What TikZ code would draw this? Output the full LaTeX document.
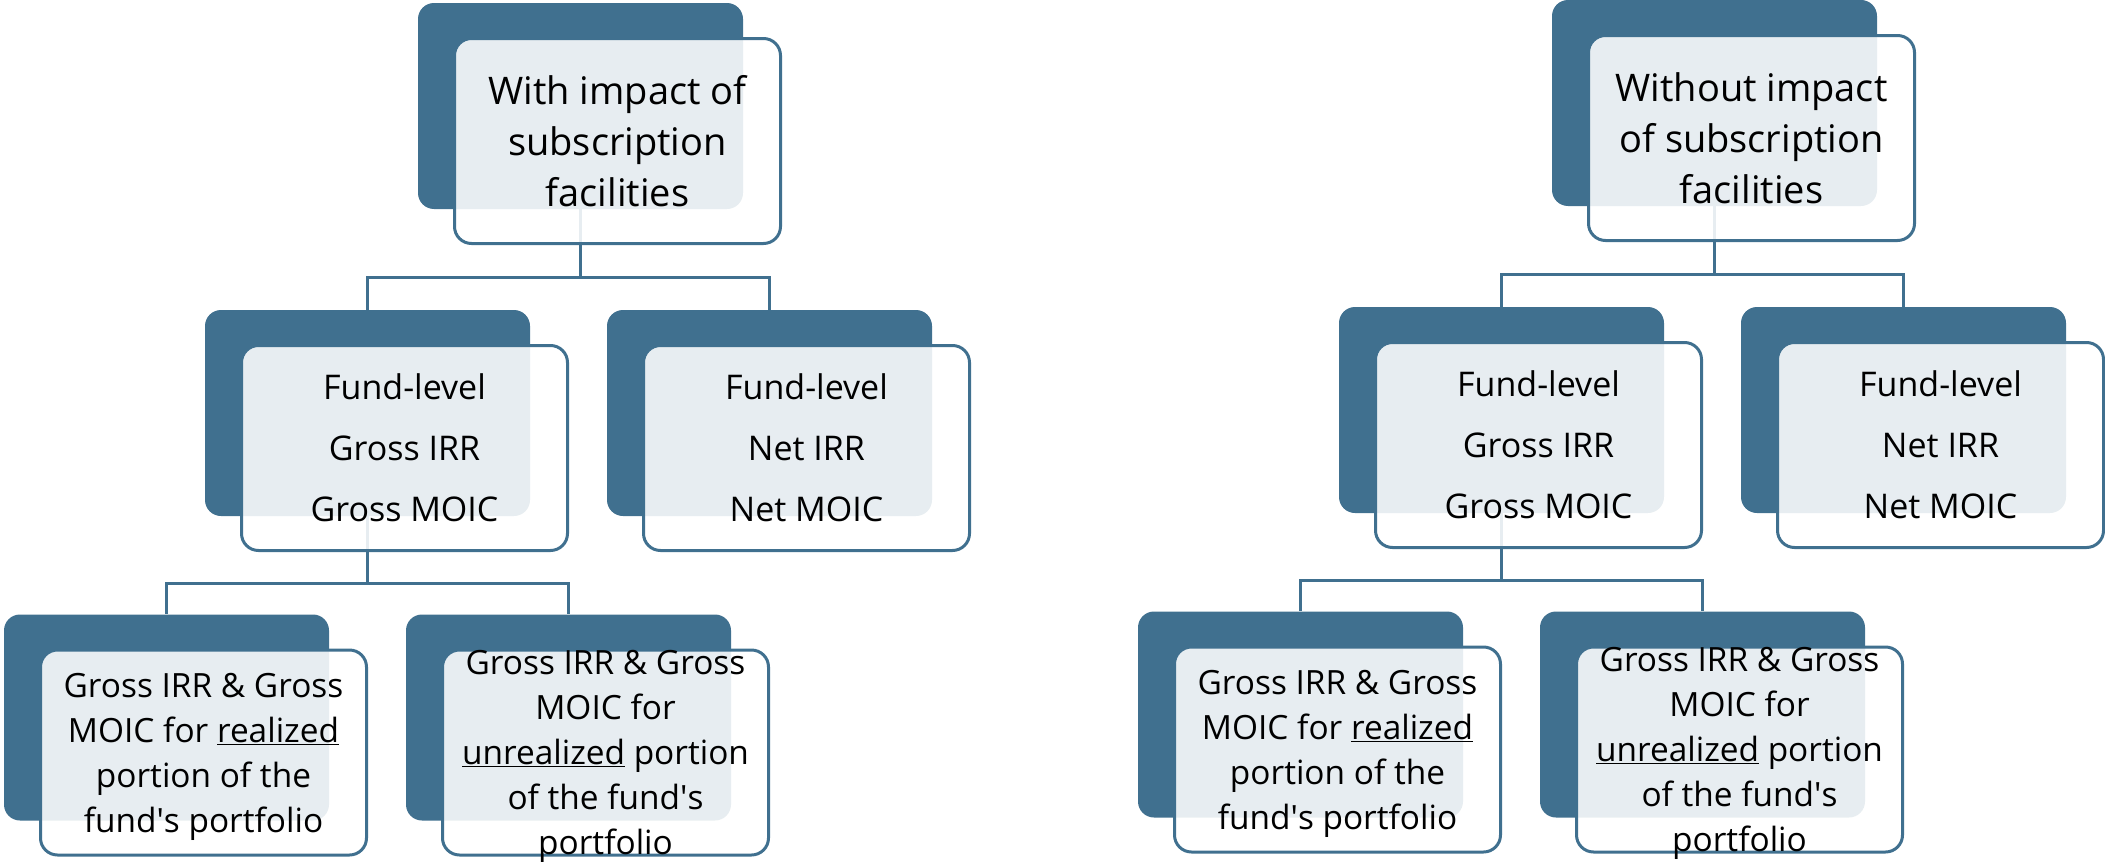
\documentclass[tikz,border=0pt]{standalone}
\usepackage{fontspec}
\setmainfont{Open Sans}
\newfontfamily\apsfont{Open Sans}
\usetikzlibrary{calc}
\definecolor{dk}{RGB}{64,112,143}
\newcommand\aps{{\apsfont\char39\relax}}
\begin{document}
\begin{tikzpicture}[x=1pt,y=-1pt,
  darkbox/.style={fill=dk, draw=none, rounded corners=16pt, minimum width=325pt, minimum height=206pt, inner sep=0pt},
  frontbox/.style={draw=dk, line width=3pt, fill=white, fill opacity=0.88, rounded corners=17pt, minimum width=326pt, minimum height=205pt, inner sep=0pt},
  conn/.style={draw=dk, line width=3pt},
  toptext/.style={align=center, inner sep=0pt, font=\fontsize{38}{51}\selectfont},
  midtext/.style={align=center, inner sep=0pt, font=\fontsize{34}{61}\selectfont},
  bottext/.style={align=center, inner sep=0pt, yshift=-4pt, font=\fontsize{33.4}{45}\selectfont}]
\useasboundingbox (0,0) rectangle (2105,862);
% dark back boxes
\node[darkbox] (t1d) at (580.5,106) {};
\node[darkbox] (m1d) at (367.5,413) {};
\node[darkbox] (m2d) at (769.5,413) {};
\node[darkbox] (b1d) at (166.5,717.5) {};
\node[darkbox] (b2d) at (568.5,717.5) {};
\node[darkbox] (t2d) at (1714.5,103) {};
\node[darkbox] (m3d) at (1501.5,410) {};
\node[darkbox] (m4d) at (1903.5,410) {};
\node[darkbox] (b3d) at (1300.5,714.5) {};
\node[darkbox] (b4d) at (1702.5,714.5) {};
% front box centres and bottom points
\foreach \n in {t1,m1,m2,b1,b2,t2,m3,m4,b3,b4}{
  \coordinate (\n c) at ($(\n d.center)+(37,35)$);
  \coordinate (\n s) at ($(\n d.center)+(37,139)$);
}
% junctions
\coordinate (j1) at ($(t1s)!.5!(m1d.north)$);
\coordinate (j2) at ($(m1s)!.5!(b1d.north)$);
\coordinate (j3) at ($(t2s)!.5!(m3d.north)$);
\coordinate (j4) at ($(m3s)!.5!(b3d.north)$);
% connectors
\draw[conn] (t1d.south) -- (t1d.south |- j1) -| (m1d.north);
\draw[conn] (t1d.south |- j1) -| (m2d.north);
\draw[conn] (m1d.south) -- (m1d.south |- j2) -| (b1d.north);
\draw[conn] (m1d.south |- j2) -| (b2d.north);
\draw[conn] (t2d.south) -- (t2d.south |- j3) -| (m3d.north);
\draw[conn] (t2d.south |- j3) -| (m4d.north);
\draw[conn] (m3d.south) -- (m3d.south |- j4) -| (b3d.north);
\draw[conn] (m3d.south |- j4) -| (b4d.north);
% front boxes
\foreach \n in {t1,m1,m2,b1,b2,t2,m3,m4,b3,b4}{
  \node[frontbox] (\n f) at (\n c) {};
}
% texts
\node[toptext] (t1t) at (t1f) {With impact of\\subscription\\facilities};
\node[toptext] (t2t) at (t2f) {Without impact\\of subscription\\facilities};
\node[midtext] (m1t) at (m1f) {Fund-level\\Gross IRR\\Gross MOIC};
\node[midtext] (m2t) at (m2f) {Fund-level\\Net IRR\\Net MOIC};
\node[midtext] (m3t) at (m3f) {Fund-level\\Gross IRR\\Gross MOIC};
\node[midtext] (m4t) at (m4f) {Fund-level\\Net IRR\\Net MOIC};
\node[bottext] (b1t) at (b1f) {Gross IRR \& Gross\\MOIC for \underline{realized}\\portion of the\\fund\aps s portfolio};
\node[bottext] (b2t) at (b2f) {Gross IRR \& Gross\\MOIC for\\\underline{unrealized} portion\\of the fund\aps s\\portfolio};
\node[bottext] (b3t) at (b3f) {Gross IRR \& Gross\\MOIC for \underline{realized}\\portion of the\\fund\aps s portfolio};
\node[bottext] (b4t) at (b4f) {Gross IRR \& Gross\\MOIC for\\\underline{unrealized} portion\\of the fund\aps s\\portfolio};
\end{tikzpicture}
\end{document}
